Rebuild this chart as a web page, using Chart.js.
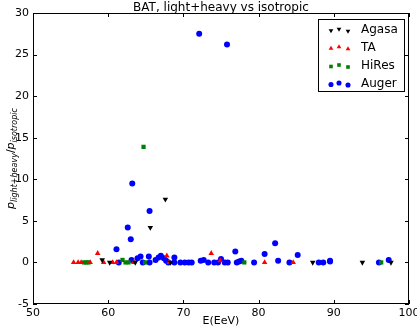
<!DOCTYPE html>
<html lang="en">
<head>
<meta charset="UTF-8" />
<title>BAT, light+heavy vs isotropic</title>
<script src="https://cdn.jsdelivr.net/npm/chart.js"></script>
<style>
  html, body { margin: 0; padding: 0; background: #ffffff; }
  #wrap { width: 417px; height: 328px; position: relative; }
</style>
</head>
<body>
<div id="wrap"><canvas id="chart"></canvas></div>
<script>
  // data
  const titleText = "BAT, light+heavy vs isotropic";
  const xLabel = "E(EeV)";
  const xTicks = [50, 60, 70, 80, 90, 100];
  const yTicks = [-5, 0, 5, 10, 15, 20, 25, 30];

  const agasaE = [59.2, 60.2, 63.6, 65.6, 67.6, 68.3, 87.2, 93.8, 97.6];
  const agasaV = [0.3, 0, 0, 4.2, 7.6, 0, 0, 0, 0];

  const taE = [55.4, 56.0, 56.4, 57.6, 58.6, 59.4, 60.6, 61.1, 63.4, 67.8, 68.1, 73.7, 74.9, 80.8, 84.6];
  const taV = [0, 0, 0, 0, 1.1, 0, 0, 0, 0, 0.8, 0, 1.1, 0.2, 0, 0];

  const hiresE = [56.8, 57.1, 57.4, 61.9, 62.3, 62.7, 64.7, 64.9, 78.1, 96.3];
  const hiresV = [0, 0, 0, 0.3, 0, 0, 13.9, 0, 0, 0];

  const augerE = [72.1, 75.8, 63.2, 65.5, 62.6, 63.0, 61.1, 82.2, 76.9, 80.8, 85.2,
    61.4, 63.1, 63.9, 64.3, 64.6, 65.4, 65.5, 66.3, 66.7, 67.0, 67.4, 67.7, 68.0,
    68.8, 68.8, 69.6, 70.2, 70.7, 71.1, 72.3, 72.7, 73.3, 74.1, 74.6, 75.0, 75.5,
    75.9, 77.1, 77.4, 77.7, 79.4, 82.6, 84.1, 88.0, 88.6, 89.5, 89.5, 96.0, 97.3];
  const augerV = [27.5, 26.2, 9.5, 6.2, 4.2, 2.8, 1.6, 2.3, 1.3, 1.0, 0.9,
    0, 0.3, 0.5, 0.7, 0, 0.7, 0, 0.3, 0.6, 0.8, 0.5, 0.2, 0,
    0.6, 0, 0, 0, 0, 0, 0.2, 0.3, 0, 0, 0, 0.4, 0,
    0, 0, 0.1, 0.2, 0, 0.2, 0, 0, 0, 0.1, 0.2, 0, 0.3];

  function pts(xs, ys) {
    return xs.map((x, i) => ({ x: x, y: ys[i] }));
  }

  const series = [
    { label: "Agasa", data: pts(agasaE, agasaV), color: "#000000", style: "triangle", rot: 180, r: 3.2 },
    { label: "TA", data: pts(taE, taV), color: "#ff0000", style: "triangle", rot: 0, r: 3.2 },
    { label: "HiRes", data: pts(hiresE, hiresV), color: "#007f00", style: "rect", rot: 0, r: 3 },
    { label: "Auger", data: pts(augerE, augerV), color: "#0000ff", style: "circle", rot: 0, r: 3 }
  ];

  const fontFam = "'DejaVu Sans', sans-serif";

  // frame, inside ticks, title, y label and matplotlib-like legend
  const decor = {
    id: "decor",
    afterDraw(chart) {
      const ctx = chart.ctx;
      const a = chart.chartArea;
      const xs = chart.scales.x, ys = chart.scales.y;
      ctx.save();
      ctx.strokeStyle = "#000";
      ctx.lineWidth = 1;
      ctx.strokeRect(a.left + 0.5, a.top + 0.5, a.right - a.left - 1, a.bottom - a.top - 1);
      ctx.beginPath();
      xTicks.forEach(v => {
        const px = Math.round(xs.getPixelForValue(v)) + 0.5;
        ctx.moveTo(px, a.bottom); ctx.lineTo(px, a.bottom - 4);
        ctx.moveTo(px, a.top); ctx.lineTo(px, a.top + 4);
      });
      yTicks.forEach(v => {
        const py = Math.round(ys.getPixelForValue(v)) + 0.5;
        ctx.moveTo(a.left, py); ctx.lineTo(a.left + 4, py);
        ctx.moveTo(a.right, py); ctx.lineTo(a.right - 4, py);
      });
      ctx.stroke();

      // title
      ctx.fillStyle = "#000";
      ctx.font = "12px " + fontFam;
      ctx.textAlign = "center";
      ctx.textBaseline = "alphabetic";
      ctx.fillText(titleText, (a.left + a.right) / 2, a.top - 2);

      // y label with subscripts
      const parts = [
        { t: "p", f: "italic 11px " + fontFam, dy: 0 },
        { t: "light+heavy", f: "italic 8px " + fontFam, dy: 3 },
        { t: "/", f: "11px " + fontFam, dy: 0 },
        { t: "p", f: "italic 11px " + fontFam, dy: 0 },
        { t: "isotropic", f: "italic 8px " + fontFam, dy: 3 }
      ];
      let total = 0;
      parts.forEach(p => { ctx.font = p.f; p.w = ctx.measureText(p.t).width; total += p.w; });
      ctx.translate(11, (a.top + a.bottom) / 2);
      ctx.rotate(-Math.PI / 2);
      ctx.textAlign = "left";
      ctx.textBaseline = "alphabetic";
      let cx = -total / 2;
      parts.forEach(p => {
        ctx.font = p.f;
        ctx.fillText(p.t, cx, p.dy + 3);
        cx += p.w;
      });
      ctx.restore();

      // legend box
      ctx.save();
      const bx = a.right - 91, by = a.top + 6, bw = 86, bh = 72;
      ctx.fillStyle = "#fff";
      ctx.fillRect(bx, by, bw, bh);
      ctx.strokeStyle = "#000";
      ctx.lineWidth = 1;
      ctx.strokeRect(bx + 0.5, by + 0.5, bw, bh);
      const offs = [0.5, -1, 1];
      series.forEach((s, i) => {
        const rowY = by + 11 + i * 18;
        ctx.fillStyle = s.color;
        ctx.strokeStyle = s.color;
        [bx + 13, bx + 21, bx + 30].forEach((mx, k) => {
          Chart.helpers.drawPoint(ctx, { pointStyle: s.style, rotation: s.rot, radius: s.r * 0.85, borderWidth: 0 }, mx, rowY + offs[k]);
        });
        ctx.fillStyle = "#000";
        ctx.font = "12px " + fontFam;
        ctx.textAlign = "left";
        ctx.textBaseline = "middle";
        ctx.fillText(s.label, bx + 43, rowY);
      });
      ctx.restore();
    }
  };

  const ctx = document.getElementById("chart").getContext("2d");
  new Chart(ctx, {
    type: "scatter",
    data: {
      datasets: series.map(s => ({
        label: s.label,
        data: s.data,
        pointStyle: s.style,
        rotation: s.rot,
        pointRadius: s.r,
        pointHoverRadius: s.r,
        backgroundColor: s.color,
        borderColor: s.color,
        borderWidth: 0
      }))
    },
    options: {
      responsive: true,
      maintainAspectRatio: false,
      animation: false,
      layout: { padding: { top: 13, right: 8, left: 0, bottom: 0 } },
      plugins: {
        legend: { display: false },
        title: { display: false },
        tooltip: { enabled: false }
      },
      scales: {
        x: {
          type: "linear",
          min: 50,
          max: 100,
          afterFit(scale) { scale.height = 24; scale.paddingLeft = 0; scale.paddingRight = 0; },
          afterBuildTicks(scale) { scale.ticks = xTicks.map(v => ({ value: v })); },
          grid: { display: false, drawTicks: false },
          border: { display: false },
          ticks: { color: "#000", font: { family: fontFam, size: 11 }, padding: 3, maxRotation: 0 },
          title: {
            display: true,
            text: xLabel,
            color: "#000",
            font: { family: fontFam, size: 11 },
            padding: { top: 0, bottom: 0 }
          }
        },
        y: {
          type: "linear",
          min: -5,
          max: 30,
          afterFit(scale) { scale.width = 33; scale.paddingTop = 0; scale.paddingBottom = 0; },
          afterBuildTicks(scale) { scale.ticks = yTicks.map(v => ({ value: v })); },
          grid: { display: false, drawTicks: false },
          border: { display: false },
          ticks: { color: "#000", font: { family: fontFam, size: 11 }, padding: 4 }
        }
      }
    },
    plugins: [decor]
  });
</script>
</body>
</html>
